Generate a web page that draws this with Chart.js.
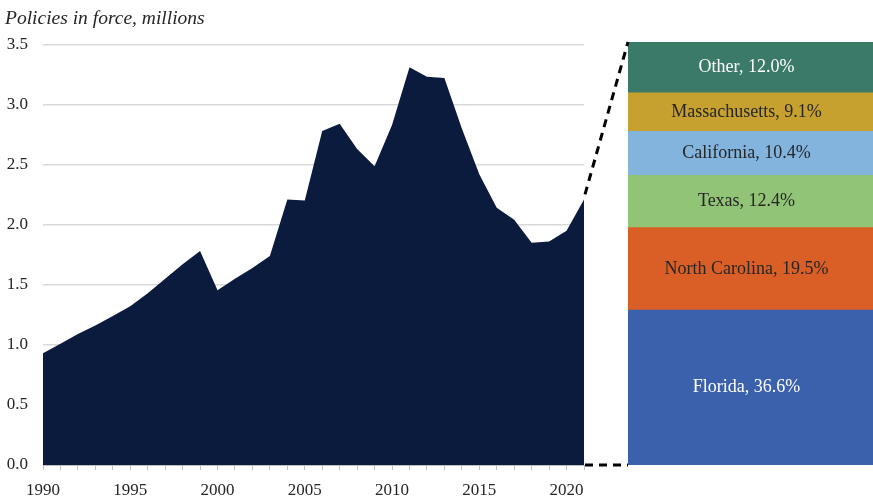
<!DOCTYPE html>
<html>
<head>
<meta charset="utf-8">
<script src="https://cdn.jsdelivr.net/npm/chart.js@4.4.1/dist/chart.umd.min.js"></script>
<style>
  html, body { margin: 0; padding: 0; background: #fff; }
  #wrap { position: relative; width: 873px; height: 499px; }
  #wrap canvas { position: absolute; left: 0; top: 0; }
</style>
</head>
<body>
<div id="wrap">
  <canvas id="areaChart" width="873" height="499"></canvas>
  <canvas id="shareChart" width="873" height="499"></canvas>
</div>
<script>
// Policies in force, millions
const years = [1990, 1991, 1992, 1993, 1994, 1995, 1996, 1997, 1998, 1999,
               2000, 2001, 2002, 2003, 2004, 2005, 2006, 2007, 2008, 2009,
               2010, 2011, 2012, 2013, 2014, 2015, 2016, 2017, 2018, 2019,
               2020, 2021];
const policies = [0.93, 1.01, 1.09, 1.16, 1.24, 1.32, 1.43, 1.55, 1.67, 1.78,
                  1.455, 1.55, 1.64, 1.74, 2.21, 2.20, 2.78, 2.84, 2.63, 2.485,
                  2.83, 3.31, 3.23, 3.22, 2.80, 2.42, 2.14, 2.04, 1.85, 1.86,
                  1.95, 2.21];
const yTicks = [0, 0.5, 1.0, 1.5, 2.0, 2.5, 3.0, 3.5];

// State shares of the latest year, bottom to top
const states = ['Florida', 'North Carolina', 'Texas', 'California', 'Massachusetts', 'Other'];
const shares = [36.6, 19.5, 12.4, 10.4, 9.1, 12.0];
const stateColors = ['#3b61ad', '#d95f27', '#92c478', '#83b4de', '#c7a12f', '#3b7a69'];
const labelColors = ['#ffffff', '#262626', '#262626', '#262626', '#262626', '#ffffff'];

const serif = '"Liberation Serif", "Times New Roman", serif';

const areaChart = new Chart(document.getElementById('areaChart'), {
    type: 'line',
    data: {
        labels: years,
        datasets: [{
            data: policies,
            fill: 'origin',
            backgroundColor: '#0a1b3d',
            borderWidth: 0,
            pointRadius: 0,
            tension: 0
        }]
    },
    options: {
        responsive: false,
        animation: false,
        layout: { padding: { left: 5, right: 289, top: 0, bottom: 0 } },
        plugins: {
            legend: { display: false },
            tooltip: { enabled: false },
            title: {
                display: true,
                text: 'Policies in force, millions',
                align: 'start',
                color: '#262626',
                font: { family: serif, size: 19.5, style: 'italic', weight: 'normal' },
                padding: { top: 7, bottom: 14 }
            }
        },
        scales: {
            x: {
                afterFit: (scale) => { scale.height = 34; },
                grid: { drawOnChartArea: false, drawTicks: true, tickLength: 5, color: '#bfbfbf' },
                border: { color: '#bfbfbf' },
                ticks: {
                    autoSkip: false,
                    maxRotation: 0,
                    padding: 10,
                    color: '#262626',
                    font: { family: serif, size: 17 },
                    callback: (v, i) => years[i] % 5 === 0 ? String(years[i]) : ''
                }
            },
            y: {
                min: 0,
                max: 3.5,
                afterFit: (scale) => { scale.width = 38; },
                afterBuildTicks: (scale) => { scale.ticks = yTicks.map(v => ({ value: v })); },
                grid: { color: '#d9d9d9', lineWidth: 1.5, drawTicks: false },
                border: { display: false },
                ticks: {
                    padding: 15,
                    color: '#262626',
                    font: { family: serif, size: 17 },
                    callback: (v) => Number(v).toFixed(1)
                }
            }
        }
    }
});

// labels inside each stacked segment
const segmentLabels = {
    id: 'segmentLabels',
    afterDatasetsDraw(chart) {
        const ctx = chart.ctx;
        ctx.save();
        ctx.font = '18px ' + serif;
        ctx.textAlign = 'center';
        ctx.textBaseline = 'middle';
        chart.data.datasets.forEach((ds, i) => {
            const el = chart.getDatasetMeta(i).data[0];
            ctx.fillStyle = labelColors[i];
            ctx.fillText(states[i] + ', ' + shares[i].toFixed(1) + '%', el.x - 4, (el.y + el.base) / 2);
        });
        ctx.restore();
    }
};

// dashed lines from the last year of the area to the share bar
const connector = {
    id: 'connector',
    afterDraw(chart) {
        const ax = areaChart.scales.x, ay = areaChart.scales.y;
        const last = years.length - 1;
        const x0 = ax.getPixelForValue(last);
        const yTop = ay.getPixelForValue(policies[last]);
        const yBottom = ay.getPixelForValue(0);
        const x1 = chart.chartArea.left;
        const barTop = chart.scales.y.getPixelForValue(100);
        const barBottom = chart.scales.y.getPixelForValue(0);
        const ctx = chart.ctx;
        ctx.save();
        ctx.strokeStyle = '#000';
        ctx.lineWidth = 3;
        ctx.setLineDash([8, 6]);
        ctx.beginPath();
        ctx.moveTo(x0 + 1, yTop - 5);
        ctx.lineTo(x1, barTop);
        ctx.stroke();
        ctx.beginPath();
        ctx.moveTo(x0 + 1, yBottom);
        ctx.lineTo(x1, barBottom);
        ctx.stroke();
        ctx.restore();
    }
};

new Chart(document.getElementById('shareChart'), {
    type: 'bar',
    data: {
        labels: ['share'],
        datasets: states.map((s, i) => ({
            label: s,
            data: [shares[i]],
            backgroundColor: stateColors[i],
            borderWidth: 0,
            barPercentage: 1,
            categoryPercentage: 1
        }))
    },
    options: {
        responsive: false,
        animation: false,
        layout: { padding: { left: 628, right: 0, top: 42, bottom: 34 } },
        plugins: { legend: { display: false }, tooltip: { enabled: false } },
        scales: {
            x: { display: false, stacked: true },
            y: { display: false, stacked: true, min: 0, max: 100 }
        }
    },
    plugins: [segmentLabels, connector]
});
</script>
</body>
</html>
